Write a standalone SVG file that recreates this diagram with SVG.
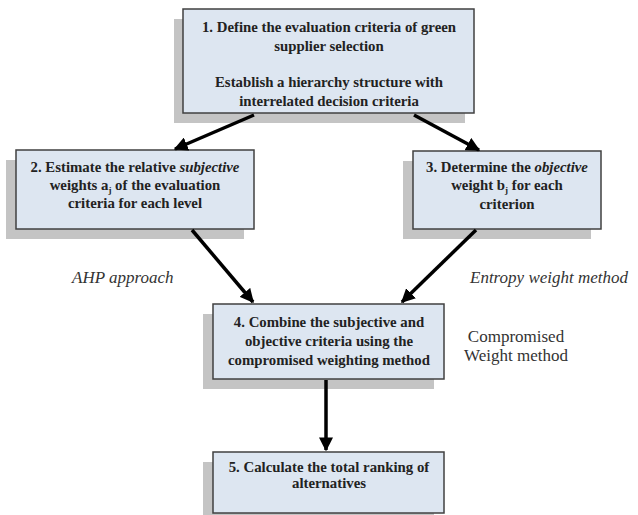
<svg xmlns="http://www.w3.org/2000/svg" width="638" height="515" viewBox="0 0 638 515">
<defs>
<marker id="ah" viewBox="0 0 10 10" refX="9" refY="5" markerWidth="4" markerHeight="4" orient="auto" markerUnits="strokeWidth">
<path d="M0,0 L10,5 L0,10 z" fill="#000"/>
</marker>
</defs>
<style>
.shadow{fill:#c4c4c4}
.box{fill:#dde6f1;stroke:#404040;stroke-width:1.5}
.t{font-family:'Liberation Serif','DejaVu Serif',serif;font-weight:bold;font-size:14.8px;fill:#222;text-anchor:middle}
.lbl{font-family:'Liberation Serif','DejaVu Serif',serif;font-size:17px;fill:#333}
.conn{stroke:#000;stroke-width:3.5;fill:none;marker-end:url(#ah)}
</style>
<rect width="638" height="515" fill="#fff"/>
<g id="node1">
<rect class="shadow" x="174" y="19" width="291" height="104"/>
<rect class="box" x="183" y="9" width="291" height="104"/>
<text class="t" x="329" y="32">1. Define the evaluation criteria of green</text>
<text class="t" x="329" y="51">supplier selection</text>
<text class="t" x="329" y="87">Establish a hierarchy structure with</text>
<text class="t" x="329" y="106">interrelated decision criteria</text>
</g>
<g id="node2">
<rect class="shadow" x="6" y="160" width="238" height="79"/>
<rect class="box" x="16" y="150" width="238" height="79"/>
<text class="t" x="135" y="172">2. Estimate the relative <tspan font-style="italic">subjective</tspan></text>
<text class="t" x="135" y="190">weights a<tspan font-size="9" dy="3">j</tspan><tspan dy="-3"> of the evaluation</tspan></text>
<text class="t" x="135" y="208">criteria for each level</text>
</g>
<g id="node3">
<rect class="shadow" x="403" y="161" width="188" height="78"/>
<rect class="box" x="413" y="151" width="188" height="78"/>
<text class="t" x="507" y="172">3. Determine the <tspan font-style="italic">objective</tspan></text>
<text class="t" x="507" y="190">weight b<tspan font-size="9" dy="3">j</tspan><tspan dy="-3"> for each</tspan></text>
<text class="t" x="507" y="209">criterion</text>
</g>
<g id="node4">
<rect class="shadow" x="203" y="314" width="231" height="75"/>
<rect class="box" x="213" y="304" width="231" height="75"/>
<text class="t" x="329" y="327">4. Combine the subjective and</text>
<text class="t" x="329" y="346">objective criteria using the</text>
<text class="t" x="329" y="365">compromised weighting method</text>
</g>
<g id="node5">
<rect class="shadow" x="203" y="462" width="231" height="60"/>
<rect class="box" x="213" y="452" width="231" height="61"/>
<text class="t" x="329" y="472">5. Calculate the total ranking of</text>
<text class="t" x="329" y="488">alternatives</text>
</g>
<g id="connectors">
<line class="conn" x1="254" y1="115" x2="175" y2="149"/>
<line class="conn" x1="414" y1="115" x2="479" y2="150"/>
<line class="conn" x1="192" y1="230" x2="253" y2="302"/>
<line class="conn" x1="476" y1="230" x2="402" y2="302"/>
<line class="conn" x1="326" y1="380" x2="326" y2="450"/>
</g>
<g id="labels">
<text class="lbl" x="72" y="283" font-style="italic">AHP approach</text>
<text class="lbl" x="470" y="283" font-style="italic">Entropy weight method</text>
<text class="lbl" x="516" y="342" text-anchor="middle">Compromised</text>
<text class="lbl" x="516" y="361" text-anchor="middle">Weight method</text>
</g>
</svg>
